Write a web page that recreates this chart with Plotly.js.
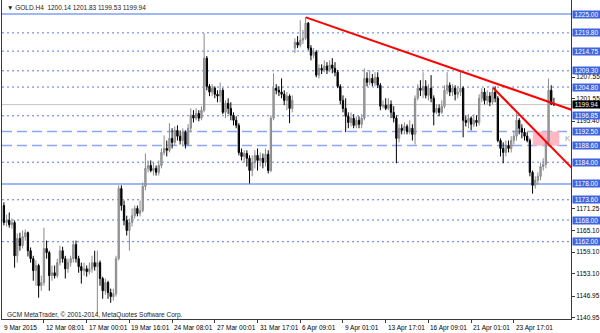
<!DOCTYPE html>
<html><head><meta charset="utf-8">
<script src="https://cdn.plot.ly/plotly-3.0.1.min.js"></script>
<style>html,body{margin:0;padding:0;background:#fff}#c{width:600px;height:333px}</style>
</head><body><div id="c"></div>
<script>
// ---- data (GOLD H4, 9 Mar – 24 Apr 2015) ----
const open = [
1172.0,1167.3,1167.9,1166.7,1167.3,1158.1,1162.9,1160.9,1163.4,1164.5,
1159.5,1157.3,1154.0,1155.4,1149.8,1150.7,1160.1,1159.0,1152.6,1153.4,
1152.6,1156.2,1159.5,1157.3,1154.5,1156.2,1157.3,1161.2,1157.3,1155.1,
1154.0,1154.5,1153.7,1154.5,1156.2,1155.1,1156.2,1151.8,1148.4,1150.7,
1147.9,1146.8,1147.6,1157.3,1176.7,1172.0,1167.9,1165.1,1167.3,1169.2,
1171.2,1169.8,1170.6,1177.3,1182.3,1183.1,1181.7,1182.3,1181.2,1183.1,
1186.7,1187.8,1187.3,1190.6,1189.5,1192.8,1191.2,1190.0,1192.3,1188.9,
1193.4,1197.0,1196.2,1197.5,1196.2,1198.4,1212.8,1205.0,1203.4,1204.5,
1202.8,1202.3,1203.9,1197.8,1200.3,1198.9,1197.0,1195.6,1194.2,1186.7,
1185.6,1186.4,1185.1,1181.7,1183.9,1185.9,1184.5,1185.1,1183.9,1186.2,
1181.7,1196.2,1204.5,1203.9,1203.4,1202.8,1201.1,1202.3,1198.9,1215.6,
1217.2,1216.4,1217.8,1218.3,1222.5,1215.6,1213.6,1214.5,1208.1,1210.0,
1209.5,1210.6,1209.5,1210.9,1210.0,1208.9,1205.0,1201.1,1198.9,1196.7,
1195.0,1196.2,1194.2,1195.6,1194.5,1196.2,1207.2,1206.1,1207.2,1205.9,
1207.5,1205.3,1199.5,1199.8,1198.9,1200.0,1197.8,1196.2,1190.6,1193.4,
1192.8,1193.9,1192.5,1193.4,1191.7,1201.7,1204.5,1203.9,1205.0,1202.5,
1204.5,1201.7,1197.8,1198.9,1197.8,1199.5,1203.9,1205.3,1203.4,1204.5,
1202.8,1203.4,1204.5,1195.6,1195.0,1196.2,1194.5,1195.6,1195.0,1201.7,
1203.4,1201.1,1202.3,1200.6,1203.4,1201.7,1190.0,1187.8,1186.7,1188.7,
1187.8,1190.0,1191.2,1195.6,1193.4,1192.3,1191.2,1190.0,1181.2,1177.6,
1179.0,1180.1,1182.8,1183.4,1189.5,1203.9,1200.14];
const high = [
1172.9,1169.5,1170.1,1168.4,1167.9,1164.3,1164.5,1165.1,1165.4,1164.8,
1160.4,1158.1,1156.8,1155.9,1152.6,1165.9,1162.3,1159.5,1155.4,1155.4,
1157.3,1160.9,1160.6,1158.1,1157.3,1158.1,1162.3,1162.3,1158.1,1156.2,
1156.2,1155.4,1156.2,1158.1,1159.5,1159.5,1156.8,1152.3,1151.8,1151.2,
1149.0,1149.0,1158.1,1177.6,1177.6,1173.4,1169.2,1168.4,1171.2,1172.0,
1172.0,1173.4,1178.4,1186.4,1184.5,1184.5,1183.9,1183.1,1184.5,1187.8,
1191.4,1190.0,1194.8,1193.4,1193.9,1194.2,1192.8,1193.4,1192.8,1194.5,
1198.9,1198.4,1198.9,1198.4,1199.5,1219.7,1213.4,1205.6,1205.6,1205.0,
1203.9,1206.1,1204.5,1201.1,1201.7,1200.6,1197.8,1196.7,1194.8,1187.8,
1187.3,1187.3,1185.9,1185.9,1187.3,1187.8,1186.7,1186.4,1187.8,1187.3,
1197.0,1208.6,1205.6,1205.0,1207.2,1203.9,1203.4,1202.8,1202.5,1218.3,
1218.9,1223.3,1220.6,1224.2,1222.8,1216.4,1215.6,1215.0,1211.1,1211.1,
1212.2,1211.7,1212.2,1212.8,1211.7,1209.5,1205.6,1202.5,1201.7,1197.8,
1197.8,1197.3,1196.7,1196.7,1197.3,1210.0,1208.9,1209.5,1208.4,1208.9,
1208.9,1205.9,1201.1,1201.7,1201.7,1201.1,1199.5,1197.0,1194.5,1194.5,
1195.0,1194.5,1195.6,1194.5,1202.5,1205.6,1206.7,1208.9,1206.7,1205.6,
1208.1,1202.5,1200.0,1200.0,1201.1,1205.3,1208.9,1206.1,1205.6,1205.3,
1205.0,1208.9,1205.0,1197.0,1197.3,1196.7,1197.3,1197.0,1202.8,1204.5,
1204.5,1203.9,1203.4,1204.5,1205.0,1202.3,1190.6,1189.5,1190.0,1190.0,
1191.2,1192.8,1197.5,1196.2,1194.5,1193.4,1192.3,1190.6,1181.7,1180.1,
1181.2,1183.9,1185.1,1190.0,1207.2,1205.3,1201.83];
const low = [
1166.5,1166.2,1165.9,1165.6,1154.8,1156.2,1159.5,1160.1,1162.3,1157.9,
1156.2,1151.2,1149.8,1146.5,1148.4,1149.8,1157.3,1148.4,1151.2,1151.8,
1152.0,1155.4,1156.2,1151.8,1153.4,1155.1,1156.2,1156.2,1153.4,1150.4,
1152.6,1152.3,1152.9,1153.4,1154.0,1142.1,1149.8,1146.2,1147.3,1146.2,
1145.1,1145.7,1146.8,1156.8,1170.6,1166.5,1163.7,1159.5,1166.2,1168.4,
1169.0,1169.0,1170.1,1176.2,1181.2,1181.2,1180.3,1180.3,1180.3,1182.3,
1185.9,1185.6,1186.7,1187.8,1188.7,1190.0,1188.9,1188.4,1187.8,1188.4,
1192.3,1195.0,1195.6,1195.3,1195.6,1197.8,1203.9,1202.3,1202.3,1201.7,
1200.6,1200.6,1197.3,1196.2,1197.3,1195.6,1194.2,1193.4,1185.9,1184.5,
1183.9,1182.8,1178.1,1180.1,1182.3,1181.7,1182.8,1182.3,1182.8,1180.9,
1181.2,1195.6,1202.8,1202.3,1201.7,1199.8,1198.4,1194.8,1197.8,1214.2,
1215.6,1215.8,1216.7,1217.8,1215.0,1212.2,1212.8,1207.5,1207.2,1208.4,
1208.9,1208.4,1208.9,1208.6,1207.8,1204.5,1200.0,1197.8,1192.3,1193.4,
1193.9,1193.4,1193.4,1193.4,1193.4,1195.6,1205.0,1205.3,1205.0,1205.0,
1204.5,1198.4,1198.9,1198.4,1198.4,1196.2,1195.0,1183.7,1189.5,1191.7,
1191.7,1191.7,1191.7,1190.0,1188.9,1201.1,1202.3,1201.7,1201.7,1201.1,
1200.6,1194.2,1197.3,1196.7,1197.3,1198.9,1202.8,1202.3,1202.3,1201.1,
1201.7,1202.3,1190.9,1193.9,1193.4,1192.8,1193.7,1193.9,1194.2,1200.6,
1200.0,1200.0,1199.5,1200.0,1200.6,1189.5,1185.6,1183.7,1185.6,1186.7,
1186.7,1188.9,1190.0,1191.7,1190.6,1190.0,1189.5,1180.1,1175.3,1176.7,
1177.8,1179.0,1181.7,1182.3,1188.4,1199.8,1199.53];
const close = [
1167.3,1167.9,1166.7,1167.3,1158.1,1162.9,1160.9,1163.4,1164.5,1159.5,
1157.3,1154.0,1155.4,1149.8,1150.7,1160.1,1159.0,1152.6,1153.4,1152.6,
1156.2,1159.5,1157.3,1154.5,1156.2,1157.3,1161.2,1157.3,1155.1,1154.0,
1154.5,1153.7,1154.5,1156.2,1155.1,1156.2,1151.8,1148.4,1150.7,1147.9,
1146.8,1147.6,1157.3,1176.7,1172.0,1167.9,1165.1,1167.3,1169.2,1171.2,
1169.8,1170.6,1177.3,1182.3,1183.1,1181.7,1182.3,1181.2,1183.1,1186.7,
1187.8,1187.3,1190.6,1189.5,1192.8,1191.2,1190.0,1192.3,1188.9,1193.4,
1197.0,1196.2,1197.5,1196.2,1198.4,1212.8,1205.0,1203.4,1204.5,1202.8,
1202.3,1203.9,1197.8,1200.3,1198.9,1197.0,1195.6,1194.2,1186.7,1185.6,
1186.4,1185.1,1181.7,1183.9,1185.9,1184.5,1185.1,1183.9,1186.2,1181.7,
1196.2,1204.5,1203.9,1203.4,1202.8,1201.1,1202.3,1198.9,1201.1,1217.2,
1216.4,1217.8,1218.3,1222.5,1215.6,1213.6,1214.5,1208.1,1210.0,1209.5,
1210.6,1209.5,1210.9,1210.0,1208.9,1205.0,1201.1,1198.9,1196.7,1195.0,
1196.2,1194.2,1195.6,1194.5,1196.2,1207.2,1206.1,1207.2,1205.9,1207.5,
1205.3,1199.5,1199.8,1198.9,1200.0,1197.8,1196.2,1190.6,1193.4,1192.8,
1193.9,1192.5,1193.4,1191.7,1201.7,1204.5,1203.9,1205.0,1202.5,1204.5,
1201.7,1197.8,1198.9,1197.8,1199.5,1203.9,1205.3,1203.4,1204.5,1202.8,
1203.4,1204.5,1195.6,1195.0,1196.2,1194.5,1195.6,1195.0,1201.7,1203.4,
1201.1,1202.3,1200.6,1203.4,1201.7,1190.0,1187.8,1186.7,1188.7,1187.8,
1190.0,1191.2,1195.6,1193.4,1192.3,1191.2,1190.0,1181.2,1177.6,1179.0,
1180.1,1182.8,1183.4,1189.5,1203.9,1200.1,1199.94];

const xTickBars = [15,31,47,63,79,95,111,127,143,159,175,191];
const xTickLabels = ["12 Mar 08:01","17 Mar 00:01","19 Mar 16:01","24 Mar 08:01","27 Mar 00:01","31 Mar 17:01","6 Apr 09:01","9 Apr 01:01","13 Apr 17:01","16 Apr 09:01","21 Apr 01:01","23 Apr 17:01"];
const firstLabel = "9 Mar 2015";
const yTicks = [1140.95,1146.95,1153.10,1159.10,1165.10,1171.25,1195.40,1201.55,1207.55];

const levels      = [1225.00,1219.80,1214.75,1209.30,1204.80,1196.85,1192.50,1188.60,1184.00,1178.00,1173.60,1168.00,1162.00];
const levelStyles = ["solid","dot","dot","dot","dot","dot","dash","dash","dot","solid","dot","dot","dot"];
const bidPrice = 1199.94;

const trend1X = [113.1, 215], trend1Y = [1224.1, 1197.9];
const trend2X = [183.2, 215], trend2Y = [1204.6, 1180.7];
const zoneX = [198.1, 208.0], zoneY = [1188.6, 1192.5];
const zoneText = "K";
const headerText = "\u25BC GOLD.H4  1200.14 1201.83 1199.53 1199.94";
const copyText = "GCM MetaTrader, \u00A9 2001-2014, MetaQuotes Software Corp.";

// ---- build ----
const idx = close.map((_, i) => i);
const FONT = "Liberation Sans, Arial, sans-serif";

const trace = {
  type: "candlestick", x: idx, open: open, high: high, low: low, close: close,
  increasing: {line: {color: "#8a8a8a", width: 1}, fillcolor: "#a6a6a6"},
  decreasing: {line: {color: "#000000", width: 1}, fillcolor: "#000000"},
  whiskerwidth: 0, hoverinfo: "skip", showlegend: false
};

const shapes = [];
shapes.push({type: "rect", xref: "x", yref: "y", x0: zoneX[0], x1: zoneX[1], y0: zoneY[0], y1: zoneY[1],
  fillcolor: "#ffb8c4", line: {width: 0}, layer: "below"});
levels.forEach((lv, i) => {
  const st = levelStyles[i];
  let line;
  if (st === "solid") line = {color: "#7f9ff2", width: 1.5};
  else if (st === "dash") line = {color: "#8aa8f4", width: 1.5, dash: "10px,5px"};
  else line = {color: "#5a78e2", width: 1, dash: "2px,3px"};
  shapes.push({type: "line", xref: "paper", yref: "y", x0: 0, x1: 1, y0: lv, y1: lv, line: line, layer: "below"});
});
shapes.push({type: "line", xref: "paper", yref: "y", x0: 0, x1: 1, y0: bidPrice, y1: bidPrice,
  line: {color: "#c4c4c4", width: 1}, layer: "below"});
shapes.push({type: "line", xref: "x", yref: "y", x0: trend1X[0], x1: trend1X[1], y0: trend1Y[0], y1: trend1Y[1],
  line: {color: "#ff0000", width: 2}, layer: "above"});
shapes.push({type: "line", xref: "x", yref: "y", x0: trend2X[0], x1: trend2X[1], y0: trend2Y[0], y1: trend2Y[1],
  line: {color: "#ff0000", width: 2}, layer: "above"});

const ann = [];
levels.forEach(lv => {
  ann.push({xref: "paper", yref: "y", x: 1, y: lv, xanchor: "left", yanchor: "middle", xshift: 1,
    text: lv.toFixed(2), showarrow: false, bgcolor: "#3f65dd", width: 27, height: 7, borderpad: 0,
    font: {family: FONT, size: 6.5, color: "#ffffff"}, align: "center"});
});
ann.push({xref: "paper", yref: "y", x: 1, y: bidPrice, xanchor: "left", yanchor: "middle", xshift: 1,
  text: bidPrice.toFixed(2), showarrow: false, bgcolor: "#000000", width: 27, height: 7, borderpad: 0,
  font: {family: FONT, size: 6.5, color: "#ffffff"}, align: "center"});
ann.push({xref: "x", yref: "paper", x: 0, y: 0, xanchor: "left", yanchor: "top", xshift: -2, yshift: -3,
  text: firstLabel, showarrow: false, font: {family: FONT, size: 6.5, color: "#000"}});
xTickBars.forEach((b, i) => {
  ann.push({xref: "x", yref: "paper", x: b, y: 0, xanchor: "left", yanchor: "top", xshift: 0, yshift: -3,
    text: xTickLabels[i], showarrow: false, font: {family: FONT, size: 6.5, color: "#000"}});
});
ann.push({xref: "paper", yref: "paper", x: 0, y: 1, xanchor: "left", yanchor: "middle", xshift: 3, yshift: -7,
  text: headerText, showarrow: false, font: {family: FONT, size: 6.5, color: "#222"}});
ann.push({xref: "paper", yref: "paper", x: 0, y: 0, xanchor: "left", yanchor: "middle", xshift: 3, yshift: 4,
  text: copyText, showarrow: false, font: {family: FONT, size: 6.5, color: "#222"}});
ann.push({xref: "x", yref: "y", x: zoneX[1], y: (zoneY[0] + zoneY[1]) / 2, xanchor: "left", yanchor: "middle", xshift: 4,
  text: zoneText, showarrow: false, font: {family: FONT, size: 8, color: "#b0a090"}});

const layout = {
  width: 600, height: 333, margin: {l: 2, r: 29, t: 0, b: 14},
  paper_bgcolor: "#ffffff", plot_bgcolor: "#ffffff", showlegend: false,
  xaxis: {range: [-0.71, 212.4], showgrid: false, zeroline: false, showline: true, linecolor: "#3a3a3a", linewidth: 1,
    ticks: "outside", ticklen: 3, tickcolor: "#3a3a3a", tickvals: xTickBars, showticklabels: false,
    rangeslider: {visible: false}, fixedrange: true},
  yaxis: {side: "right", range: [1140.6, 1228.9], showgrid: false, zeroline: false, showline: true, mirror: true,
    linecolor: "#3a3a3a", linewidth: 1, ticks: "outside", ticklen: 3, tickcolor: "#3a3a3a",
    tickvals: yTicks, tickformat: ".2f", tickfont: {family: FONT, size: 6.5, color: "#000"}, fixedrange: true},
  shapes: shapes, annotations: ann, boxgap: 0.3
};
Plotly.newPlot("c", [trace], layout, {staticPlot: true, displayModeBar: false});
</script></body></html>
